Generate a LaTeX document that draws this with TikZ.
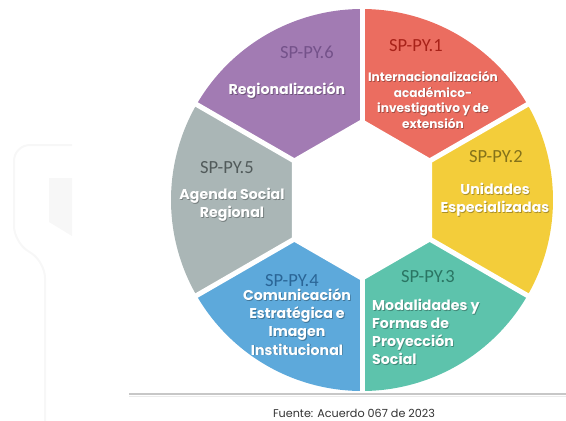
\documentclass[tikz,border=0pt]{standalone}
\usepackage{fontspec}
\newfontfamily\bodyfont{Poppins}
\newfontfamily\labfont{Carlito}
\definecolor{cred}{HTML}{EB6D60}
\definecolor{cyel}{HTML}{F3CD3A}
\definecolor{cteal}{HTML}{5DC3AC}
\definecolor{cblue}{HTML}{5DA9DB}
\definecolor{cgrey}{HTML}{AAB6B6}
\definecolor{cpurp}{HTML}{A27BB3}
\definecolor{lred}{HTML}{A82219}
\definecolor{lyel}{HTML}{84721A}
\definecolor{lteal}{HTML}{2A7563}
\definecolor{lblue}{HTML}{2A6596}
\definecolor{lgrey}{HTML}{515A5A}
\definecolor{lpurp}{HTML}{74528A}
\tikzset{
  lab/.style={font=\labfont\fontsize{18.5}{18.5}\selectfont, inner sep=0pt},
  body/.style={font=\bodyfont\bfseries\fontsize{14.2}{18.2}\selectfont, text=white, align=center, inner sep=0pt},
  small/.style={font=\bodyfont\bfseries\fontsize{12.2}{15.7}\selectfont},
  shadowtxt/.style={text=black, opacity=0.3},
  gap/.style={white, line width=5pt},
}
\newcommand\btext[4]{%
  \node[body,#3,shadowtxt,xshift=0.8pt,yshift=-0.8pt] (#1s) at (#2) {#4};
  \node[body,#3] (#1) at (#2) {#4};}
\begin{document}
\begin{tikzpicture}[x=1pt,y=-1pt]
\useasboundingbox (0,0) rectangle (566,421);
% faint background
\draw[black!3, line width=2pt, rounded corners=16pt] (72,145) -- (14,145) -- (14,242) -- (45,262) -- (45,421);
\fill[black!3] (49,178) -- (72,178) -- (72,236) -- (49,222) -- cycle;
% wheel
\begin{scope}[shift={(362,200)}, x=1pt, y=1pt]
  \fill[cred]  (0,0) -- (30:191)  arc[start angle=30,  end angle=90,  radius=191] -- cycle;
  \fill[cpurp] (0,0) -- (90:191)  arc[start angle=90,  end angle=150, radius=191] -- cycle;
  \fill[cgrey] (0,0) -- (150:191) arc[start angle=150, end angle=210, radius=191] -- cycle;
  \fill[cblue] (0,0) -- (210:191) arc[start angle=210, end angle=270, radius=191] -- cycle;
  \fill[cteal] (0,0) -- (270:191) arc[start angle=270, end angle=330, radius=191] -- cycle;
  \fill[cyel]  (0,0) -- (-30:191) arc[start angle=-30, end angle=30,  radius=191] -- cycle;
  \foreach \a in {30,90,150,210,270,330} \draw[gap] (0,0) -- (\a:196);
  \fill[white] (90:81) -- (150:81) -- (210:81) -- (270:81) -- (330:81) -- (30:81) -- cycle;
\end{scope}
% labels
\node[lab, text=lpurp] (l6) at (307,52) {SP-PY.6};
\node[lab, text=lred]  (l1) at (416,46) {SP-PY.1};
\node[lab, text=lyel]  (l2) at (496,157) {SP-PY.2};
\node[lab, text=lteal] (l3) at (428,277) {SP-PY.3};
\node[lab, text=lblue] (l4) at (292,281) {SP-PY.4};
\node[lab, text=lgrey] (l5) at (227,168) {SP-PY.5};
% bodies
\btext{b6}{287,91}{}{Regionalización}
\btext{b1}{433,100}{small}{Internacionalización\\académico-\\investigativo y de\\extensión}
\btext{b2}{495,200}{}{Unidades\\Especializadas}
\btext{b3}{372,332}{anchor=west,align=left}{Modalidades y\\Formas de\\Proyección\\Social}
\btext{b4}{297,322}{}{Comunicación\\Estratégica e\\Imagen\\Institucional}
\btext{b5}{232,205}{}{Agenda Social\\Regional}
% source
\draw[black!22, line width=1.6pt] (129,394) -- (566,394);
\draw[black!8, line width=1pt] (129,396.5) -- (566,396.5);
\node[font=\bodyfont\fontsize{11.2}{13}\selectfont, text=black!80, inner sep=0pt] (src) at (354,413) {Fuente: Acuerdo 067 de 2023};
\end{tikzpicture}
\end{document}
